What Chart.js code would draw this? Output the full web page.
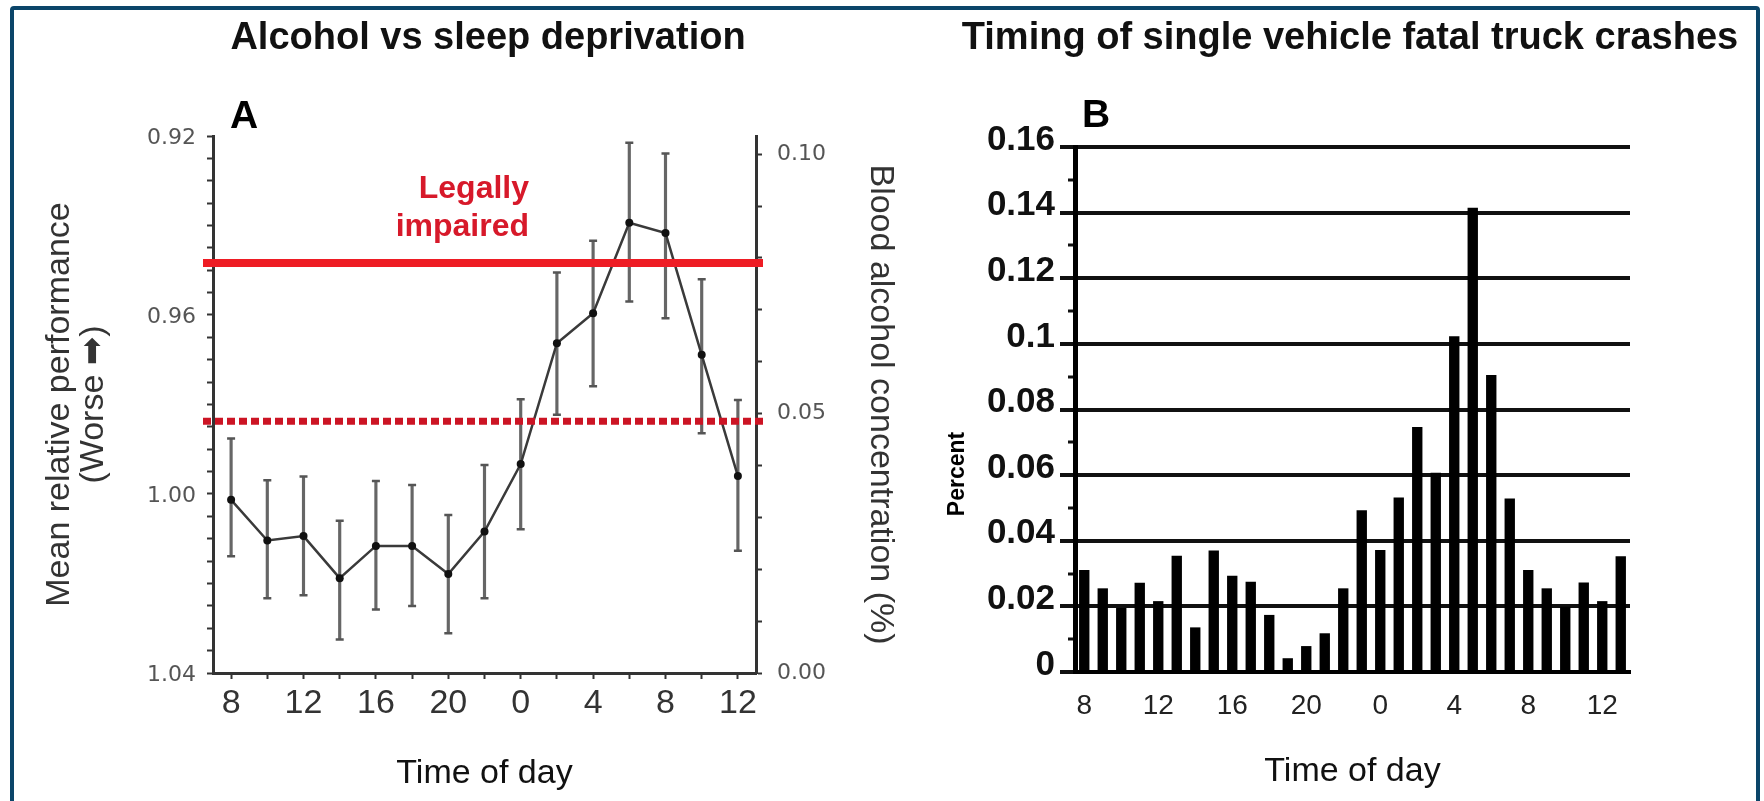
<!DOCTYPE html>
<html><head><meta charset="utf-8">
<script src="https://cdn.jsdelivr.net/npm/chart.js@4.4.1/dist/chart.umd.min.js"></script>
<style>
html,body{margin:0;padding:0;background:#fff;width:1764px;height:801px;overflow:hidden;}
#frame{position:absolute;left:10px;top:6px;width:1750px;height:840px;box-sizing:border-box;border:4px solid #0b4569;border-radius:4px;}
#cA{position:absolute;left:0;top:0;}
#cB{position:absolute;left:940px;top:0;}
</style></head><body>
<div id="frame"></div>
<canvas id="cA" width="976" height="801"></canvas>
<canvas id="cB" width="820" height="801"></canvas>
<script>
// ---------- Panel A: Alcohol vs sleep deprivation ----------
const timeLabelsA = ['8','10','12','14','16','18','20','22','0','2','4','6','8','10','12'];
const meanPerf   = [1.0013,1.0104,1.0094,1.0188,1.0116,1.0116,1.0179,1.0084,0.9933,0.9663,0.9596,0.9394,0.9417,0.9689,0.9960];
const errTop     = [0.9876,0.9969,0.9961,1.0060,0.9971,0.9980,1.0047,0.9935,0.9788,0.9505,0.9434,0.9215,0.9239,0.9520,0.9790];
const errBottom  = [1.0139,1.0233,1.0226,1.0325,1.0258,1.0250,1.0311,1.0233,1.0079,0.9823,0.9759,0.9570,0.9607,0.9864,1.0127];
const legalLimitBAC = 0.079;   // solid red line (right axis)
const dottedBAC     = 0.0485;  // dotted red line (right axis)

// ---------- Panel B: Timing of single vehicle fatal truck crashes ----------
const hoursB = ['8','9','10','11','12','13','14','15','16','17','18','19','20','21','22','23',
                '0','1','2','3','4','5','6','7','8','9','10','11','12','13'];
const crashPct = [0.0311,0.0255,0.0195,0.0272,0.0216,0.0354,0.0136,0.0370,0.0293,0.0275,0.0174,0.0042,0.0079,0.0118,0.0255,0.0493,
                  0.0372,0.0532,0.0747,0.0607,0.1023,0.1415,0.0905,0.0529,0.0311,0.0255,0.0199,0.0273,0.0216,0.0353];

const FONT = '"Liberation Sans", Arial, Helvetica, "DejaVu Sans", sans-serif';

const annotA = {
  id: 'annotA',
  afterDatasetsDraw(chart) {
    const {ctx, chartArea: ca, scales} = chart;
    const y2 = scales.y2;
    ctx.save();
    let py = y2.getPixelForValue(legalLimitBAC);
    ctx.strokeStyle = '#ee1c24'; ctx.lineWidth = 8; ctx.lineCap = 'butt';
    ctx.beginPath(); ctx.moveTo(ca.left - 10, py); ctx.lineTo(ca.right + 7, py); ctx.stroke();
    py = y2.getPixelForValue(dottedBAC);
    ctx.strokeStyle = '#cc1424'; ctx.lineWidth = 7; ctx.setLineDash([8, 4]);
    ctx.beginPath(); ctx.moveTo(ca.left - 10, py); ctx.lineTo(ca.right + 7, py); ctx.stroke();
    ctx.setLineDash([]);
    ctx.fillStyle = '#d7192a'; ctx.font = 'bold 32px ' + FONT;
    ctx.textAlign = 'right'; ctx.textBaseline = 'alphabetic';
    ctx.fillText('Legally', ca.left + 316, 198);
    ctx.fillText('impaired', ca.left + 316, 236);
    ctx.fillStyle = '#000'; ctx.font = 'bold 39px ' + FONT; ctx.textAlign = 'center';
    ctx.fillText('A', ca.left + 31, 128);
    ctx.restore();
  }
};

new Chart(document.getElementById('cA'), {
  type: 'line',
  data: {
    labels: timeLabelsA,
    datasets: [
      {type:'line', data: meanPerf, borderColor:'#3a3a3a', borderWidth:2.5, tension:0,
       pointRadius:4, pointBackgroundColor:'#111', pointBorderColor:'#111', pointBorderWidth:0, yAxisID:'y', order:0},
      {type:'line', data: errTop, showLine:false, pointStyle:'line', pointRadius:4,
       pointBorderColor:'#555', pointBorderWidth:2.5, yAxisID:'y', order:1},
      {type:'line', data: errBottom, showLine:false, pointStyle:'line', pointRadius:4,
       pointBorderColor:'#555', pointBorderWidth:2.5, yAxisID:'y', order:1},
      {type:'bar', data: errTop.map((t, i) => [t, errBottom[i]]), backgroundColor:'#666',
       barThickness:2.5, borderWidth:0, yAxisID:'y', order:2}
    ]
  },
  options: {
    responsive:false, animation:false, events:[],
    layout:{padding:0},
    plugins:{
      legend:{display:false}, tooltip:{enabled:false},
      title:{display:true, text:'Alcohol vs sleep deprivation', color:'#111',
             font:{family:FONT, size:38, weight:'bold', lineHeight:1.2}, padding:{top:15.7, bottom:74.7}}
    },
    scales:{
      x:{type:'category', offset:true,
         grid:{offset:false, drawOnChartArea:false, drawTicks:true, tickLength:6, tickColor:'#333', tickWidth:2},
         border:{display:true, color:'#333', width:3},
         ticks:{autoSkip:false, maxRotation:0, padding:4, color:'#333', font:{family:FONT, size:34},
                callback:(v, i) => i % 2 === 0 ? timeLabelsA[i] : ''},
         title:{display:true, text:'Time of day', color:'#111', font:{family:FONT, size:34, lineHeight:1}, padding:{top:0, bottom:10}},
         afterFit:s => { s.height = 128; }},
      y:{position:'left', reverse:true, min:0.92, max:1.04,
         ticks:{stepSize:0.005, autoSkip:false, padding:11, labelOffset:2, color:'#555', font:{family:'"DejaVu Sans", sans-serif', size:22},
                callback:v => { const k = Math.round(v * 1000); return k % 40 === 0 ? (k / 1000).toFixed(2) : ''; }},
         grid:{drawOnChartArea:false, tickLength:6, tickColor:'#333', tickWidth:2},
         border:{color:'#333', width:3},
         title:{display:true, text:['Mean relative performance','(Worse \u27A1)'], color:'#333',
                font:{family:FONT, size:34, lineHeight:1}, padding:{top:43, bottom:0}},
         afterFit:s => { s.width = 213; }},
      y2:{position:'right', min:0, max:0.1035,
          ticks:{stepSize:0.01, includeBounds:false, autoSkip:false, padding:15, color:'#555', font:{family:'"DejaVu Sans", sans-serif', size:22},
                 callback:v => { const k = Math.round(v * 100); return k % 5 === 0 ? (k / 100).toFixed(2) : ''; }},
          grid:{drawOnChartArea:false, tickLength:6, tickColor:'#333', tickWidth:2},
          border:{color:'#333', width:3},
          title:{display:true, text:'Blood alcohol concentration (%)', color:'#333',
                 font:{family:FONT, size:34, lineHeight:1}, padding:{top:79, bottom:0}},
          afterFit:s => { s.width = 220; }}
    }
  },
  plugins:[annotA]
});

const annotB = {
  id: 'annotB',
  afterDraw(chart) {
    const {ctx, chartArea: ca} = chart;
    ctx.save();
    ctx.fillStyle = '#000'; ctx.font = 'bold 39px ' + FONT; ctx.textAlign = 'center'; ctx.textBaseline = 'alphabetic';
    ctx.fillText('B', ca.left + 21, 127);
    ctx.translate(18, 474); ctx.rotate(-Math.PI / 2);
    ctx.font = 'bold 23px ' + FONT; ctx.textBaseline = 'middle';
    ctx.fillText('Percent', 0, 0);
    ctx.restore();
  }
};

const isMajor = c => c.tick && Math.round(c.tick.value * 100) % 2 === 0;

new Chart(document.getElementById('cB'), {
  type: 'bar',
  data: {labels: hoursB, datasets:[{data: crashPct, backgroundColor:'#000', borderWidth:0, barPercentage:0.56, categoryPercentage:1}]},
  options: {
    responsive:false, animation:false, events:[],
    layout:{padding:0},
    plugins:{
      legend:{display:false}, tooltip:{enabled:false},
      title:{display:true, text:'Timing of single vehicle fatal truck crashes', color:'#111',
             font:{family:FONT, size:38, weight:'bold', lineHeight:1.2}, padding:{top:15.7, bottom:85.7}}
    },
    scales:{
      x:{offset:true,
         grid:{offset:false, drawOnChartArea:false, drawTicks:false},
         border:{display:true, color:'#000', width:4},
         ticks:{autoSkip:false, maxRotation:0, padding:17, color:'#222', font:{family:FONT, size:28},
                callback:(v, i) => i % 4 === 0 ? hoursB[i] : ''},
         title:{display:true, text:'Time of day', color:'#111', font:{family:FONT, size:34, lineHeight:1}, padding:{top:0, bottom:12}},
         afterFit:s => { s.height = 129; }},
      y:{position:'left', min:0, max:0.16,
         ticks:{stepSize:0.01, autoSkip:false, padding:5, labelOffset:-7, color:'#111',
                font:{family:FONT, size:35, weight:'bold'},
                callback:v => { const k = Math.round(v * 100); return k % 2 === 0 ? String(k / 100) : ''; }},
         grid:{color:c => isMajor(c) ? '#111' : 'rgba(0,0,0,0)', lineWidth:4,
               tickLength:15, tickColor:'#111', tickWidth:c => isMajor(c) ? 4 : 3,
               tickBorderDash:c => isMajor(c) ? [] : [0, 8, 7, 0]},
         border:{color:'#000', width:5},
         afterFit:s => { s.width = 135; }},
      yR:{position:'right', display:true, grid:{display:false}, ticks:{display:false}, border:{display:false},
          afterFit:s => { s.width = 130; }}
    }
  },
  plugins:[annotB]
});
</script>
</body></html>
